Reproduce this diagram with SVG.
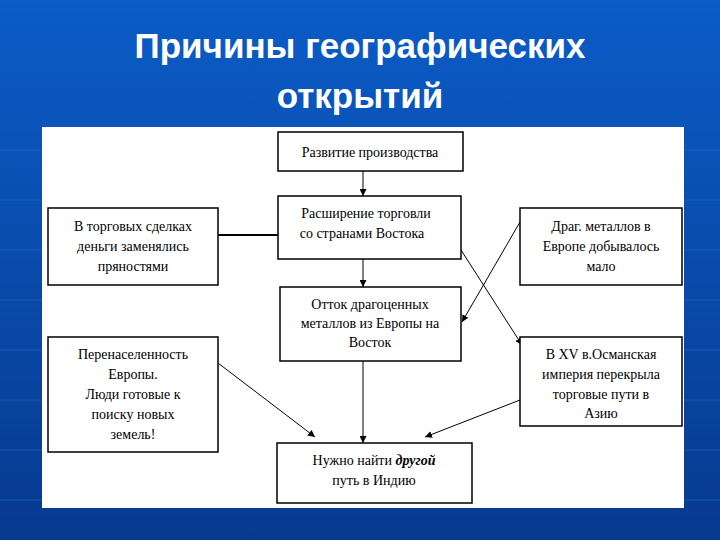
<svg xmlns="http://www.w3.org/2000/svg" width="720" height="540" viewBox="0 0 720 540">
<defs>
<linearGradient id="bg" x1="0" y1="0" x2="0" y2="1"><stop offset="0" stop-color="#0b5cc7"/><stop offset="1" stop-color="#073a8f"/></linearGradient>
<marker id="ar" viewBox="0 0 10 10" refX="10" refY="5" markerWidth="7" markerHeight="7" orient="auto" markerUnits="userSpaceOnUse"><path d="M0,0L10,5L0,10z" fill="#000"/></marker>
<style>
.b{fill:#fff;stroke:#000;stroke-width:1.5}
.t{font-family:"Liberation Serif",serif;font-size:14px;fill:#000;text-anchor:middle}
.c{stroke:#000;stroke-width:1;fill:none}
.h{font-family:"Liberation Sans",Arial,sans-serif;font-size:35px;font-weight:bold;fill:#fff;text-anchor:middle}
</style>
</defs>
<rect width="720" height="540" fill="url(#bg)"/>
<g stroke="#2a6fd0" stroke-width="1" opacity="0.5">
<path d="M0,150H720M0,200H720M0,250H720M0,300H720M0,350H720M0,400H720M0,450H720M0,500H720"/>
</g>
<text class="h" x="360" y="58">Причины географических</text>
<text class="h" x="360" y="108">открытий</text>
<rect x="42" y="127" width="642" height="381" fill="#fff"/>
<g id="connectors">
<path class="c" d="M363,171V196" marker-end="url(#ar)"/>
<path class="c" d="M363,259V287" marker-end="url(#ar)"/>
<path class="c" d="M363,361V443" marker-end="url(#ar)"/>
<path d="M218,235H278" stroke="#000" stroke-width="2"/>
<path class="c" d="M461,250L522,345" marker-end="url(#ar)"/>
<path class="c" d="M520,222L462,322" marker-end="url(#ar)"/>
<path class="c" d="M218,363L315,437" marker-end="url(#ar)"/>
<path class="c" d="M520,400L425,437" marker-end="url(#ar)"/>
</g>
<g id="n1"><rect class="b" x="278" y="132" width="185" height="39"/><text class="t" x="370" y="157">Развитие производства</text></g>
<g id="n2"><rect class="b" x="278" y="196" width="183" height="63"/><text class="t" x="366" y="218">Расширение торговли</text><text class="t" x="362" y="238">со странами Востока</text></g>
<g id="n3"><rect class="b" x="48" y="208" width="170" height="77"/><text class="t" x="133" y="231">В торговых сделках</text><text class="t" x="133" y="251">деньги заменялись</text><text class="t" x="133" y="271">пряностями</text></g>
<g id="n4"><rect class="b" x="520" y="208" width="162" height="77"/><text class="t" x="601" y="231">Драг. металлов в</text><text class="t" x="601" y="251">Европе добывалось</text><text class="t" x="601" y="271">мало</text></g>
<g id="n5"><rect class="b" x="280" y="287" width="181" height="74"/><text class="t" x="370" y="309">Отток драгоценных</text><text class="t" x="370" y="328">металлов из Европы на</text><text class="t" x="370" y="347">Восток</text></g>
<g id="n6"><rect class="b" x="48" y="337" width="170" height="115"/><text class="t" x="133" y="359">Перенаселенность</text><text class="t" x="133" y="379">Европы.</text><text class="t" x="133" y="399">Люди готовые к</text><text class="t" x="133" y="419">поиску новых</text><text class="t" x="133" y="439">земель!</text></g>
<g id="n7"><rect class="b" x="520" y="337" width="162" height="89"/><text class="t" x="601" y="359">В XV в.Османская</text><text class="t" x="601" y="379">империя перекрыла</text><text class="t" x="601" y="399">торговые пути в</text><text class="t" x="601" y="418">Азию</text></g>
<g id="n8"><rect class="b" x="277" y="443" width="195" height="60"/><text class="t" x="374" y="465">Нужно найти <tspan font-weight="bold" font-style="italic">другой</tspan></text><text class="t" x="374" y="485">путь в Индию</text></g>
</svg>
